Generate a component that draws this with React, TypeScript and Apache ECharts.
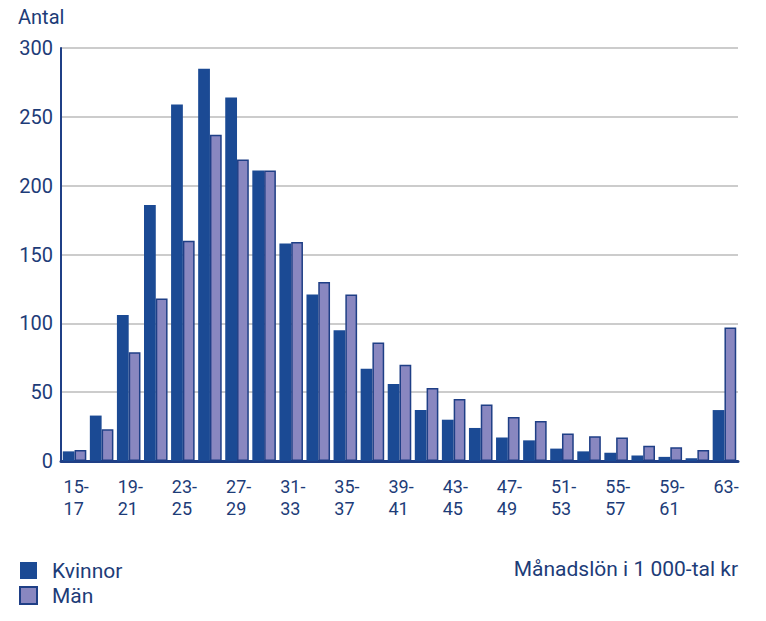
import React, { useEffect, useRef } from "react";
import * as echarts from "echarts";

const categories = [
  "15-\n17", "17-\n19", "19-\n21", "21-\n23", "23-\n25", "25-\n27", "27-\n29", "29-\n31",
  "31-\n33", "33-\n35", "35-\n37", "37-\n39", "39-\n41", "41-\n43", "43-\n45", "45-\n47",
  "47-\n49", "49-\n51", "51-\n53", "53-\n55", "55-\n57", "57-\n59", "59-\n61", "61-\n63", "63-",
];
const kvinnor = [7, 33, 106, 186, 259, 285, 264, 211, 158, 121, 95, 67, 56, 37, 30, 24, 17, 15, 9, 7, 6, 4, 3, 2, 37];
const man = [8, 23, 79, 118, 160, 237, 219, 211, 159, 130, 121, 86, 70, 53, 45, 41, 32, 29, 20, 18, 17, 11, 10, 8, 97];
const yTicks = { min: 0, max: 300, interval: 50 };

const TEXT = "#1d3c78";
const DARK = "#1b4a94";
const LIGHT = "#8987c0";
const BORDER = "#1f3f86";
const FONT = "Roboto";

export default function App() {
  const ref = useRef<HTMLDivElement>(null);
  useEffect(() => {
    if (!ref.current) return;
    const chart = echarts.init(ref.current, undefined, { renderer: "svg" });
    chart.setOption({
      animation: false,
      textStyle: { fontFamily: FONT },
      grid: { left: 61, right: 28, top: 48, bottom: 160, containLabel: false },
      legend: {
        orient: "vertical",
        left: 19,
        top: 560,
        padding: 0,
        itemWidth: 17,
        itemHeight: 17,
        itemGap: 4,
        icon: "rect",
        textStyle: { fontSize: 21, lineHeight: 17, color: TEXT, fontFamily: FONT, padding: [0, 0, 0, 10] },
        data: ["Kvinnor", "Män"],
      },
      graphic: [
        {
          type: "text",
          left: 18,
          top: 7,
          style: { text: "Antal", fontSize: 20, fill: TEXT, fontFamily: FONT },
        },
        {
          type: "text",
          right: 28,
          top: 558,
          style: { text: "Månadslön i 1 000-tal kr", fontSize: 21, fill: TEXT, fontFamily: FONT },
        },
      ],
      xAxis: {
        type: "category",
        data: categories,
        axisLine: { lineStyle: { color: BORDER, width: 3 } },
        axisTick: { show: false },
        axisLabel: {
          interval: 1,
          margin: 14,
          align: "center",
          formatter: (v: string) =>
            v
              .split("\n")
              .map((s) => `{a|${s}}`)
              .join("\n"),
          rich: {
            a: { width: 22, align: "left", fontSize: 18, lineHeight: 22, color: TEXT, fontFamily: FONT },
          },
        },
      },
      yAxis: {
        type: "value",
        min: yTicks.min,
        max: yTicks.max,
        interval: yTicks.interval,
        axisLine: { show: true, lineStyle: { color: BORDER, width: 2 } },
        axisTick: { show: false },
        axisLabel: { fontSize: 20, color: TEXT, margin: 8, fontFamily: FONT },
        splitLine: { lineStyle: { color: "#cccccc", width: 2 } },
      },
      series: [
        {
          name: "Kvinnor",
          type: "bar",
          data: kvinnor,
          barGap: "0%",
          barCategoryGap: "13%",
          itemStyle: { color: DARK },
        },
        {
          name: "Män",
          type: "bar",
          data: man,
          itemStyle: { color: LIGHT, borderColor: BORDER, borderWidth: 1.5 },
        },
      ],
    });
    return () => chart.dispose();
  }, []);
  return <div ref={ref} style={{ width: 766, height: 621, margin: -8 }} />;
}
